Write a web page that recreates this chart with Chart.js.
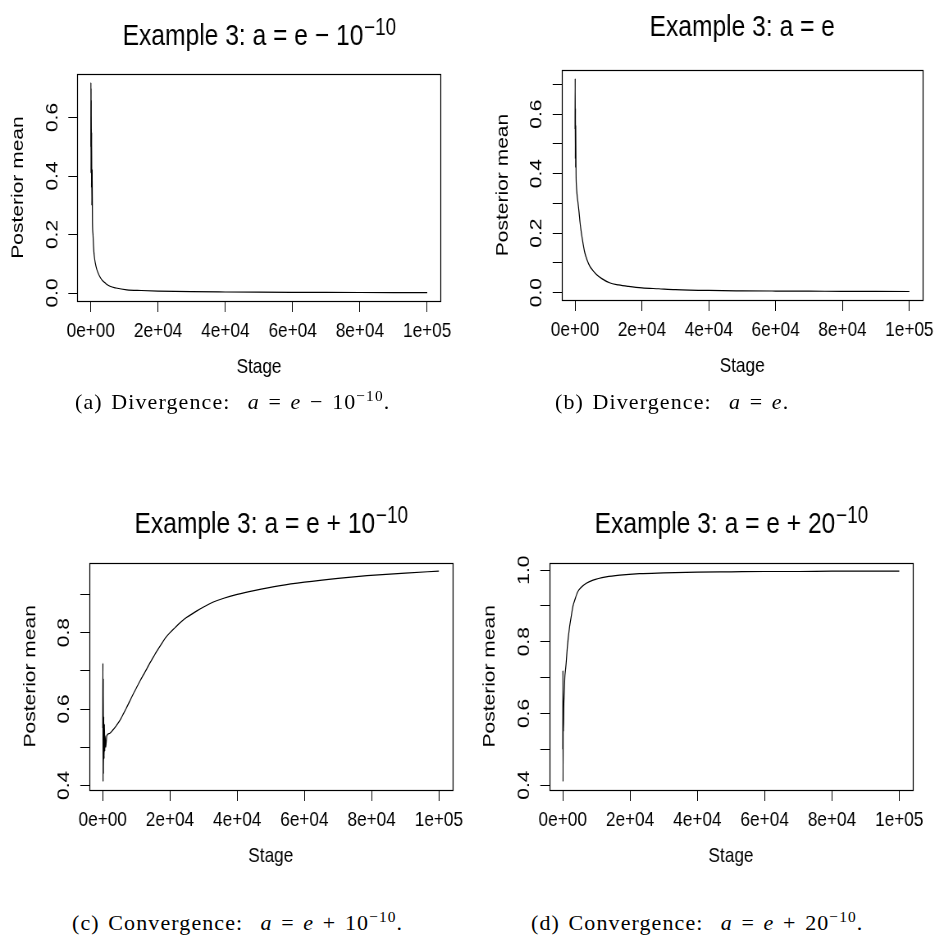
<!DOCTYPE html>
<html>
<head>
<meta charset="utf-8">
<script src="https://cdn.jsdelivr.net/npm/chart.js@4.4.1/dist/chart.umd.min.js"></script>
<style>
  html, body { margin: 0; padding: 0; background: #fff; }
  body { width: 941px; height: 940px; position: relative; overflow: hidden; }
  .panel { position: absolute; width: 573px; height: 420px; transform: scaleX(0.82); transform-origin: 0 0; }
  .cap { position: absolute; font-family: "Liberation Serif", "Times New Roman", serif; font-size: 22px; letter-spacing: 1.1px; word-spacing: 2px; line-height: 24px; white-space: nowrap; color: #000; }
  .cap i { font-style: italic; }
  .cap sup { font-size: 0.7em; vertical-align: 0.55em; line-height: 0; }
</style>
</head>
<body>
<div class="panel" style="left:0px; top:0px;"><canvas id="chartA" width="573" height="420"></canvas></div>
<div class="panel" style="left:470px; top:0px;"><canvas id="chartB" width="573" height="420"></canvas></div>
<div class="panel" style="left:0px; top:470px;"><canvas id="chartC" width="573" height="420"></canvas></div>
<div class="panel" style="left:470px; top:470px;"><canvas id="chartD" width="573" height="420"></canvas></div>

<div class="cap" style="left:75px; top:390px;">(a) Divergence: &nbsp;<i>a</i> = <i>e</i> − 10<sup>−10</sup>.</div>
<div class="cap" style="left:555px; top:390px;">(b) Divergence: &nbsp;<i>a</i> = <i>e</i>.</div>
<div class="cap" style="left:72px; top:911px;">(c) Convergence: &nbsp;<i>a</i> = <i>e</i> + 10<sup>−10</sup>.</div>
<div class="cap" style="left:531px; top:911px;">(d) Convergence: &nbsp;<i>a</i> = <i>e</i> + 20<sup>−10</sup>.</div>

<script>
// stage axis, shared by all four panels
const xTicks = [0, 20000, 40000, 60000, 80000, 100000];
const xTickLabels = ['0e+00', '2e+04', '4e+04', '6e+04', '8e+04', '1e+05'];

// (a) a = e - 10^-10
const stagesA = [0, 30, 60, 90, 120, 150, 200, 250, 300, 400, 500, 650, 800, 1000, 1300, 1800, 2500, 3300, 4500, 5700, 7500, 10700, 15000, 20000, 30000, 40000, 50000, 60000, 70000, 80000, 90000, 100000];
const meansA = [0.50, 0.72, 0.41, 0.70, 0.45, 0.66, 0.36, 0.55, 0.30, 0.42, 0.24, 0.20, 0.16, 0.13, 0.105, 0.08, 0.06, 0.045, 0.032, 0.023, 0.017, 0.011, 0.0085, 0.0065, 0.0045, 0.0035, 0.0028, 0.0023, 0.002, 0.0018, 0.0016, 0.0014];
const yTicksA = [0, 0.2, 0.4, 0.6];
const yLabelsA = ['0.0', '0.2', '0.4', '0.6'];

// (b) a = e
const stagesB = [0, 40, 80, 120, 160, 200, 300, 400, 600, 900, 1200, 1500, 1900, 2400, 2900, 3600, 4400, 5300, 6400, 8000, 10300, 13000, 16000, 20000, 25000, 30000, 40000, 50000, 60000, 70000, 80000, 90000, 100000];
const meansB = [0.55, 0.72, 0.45, 0.62, 0.42, 0.56, 0.40, 0.36, 0.33, 0.30, 0.27, 0.235, 0.20, 0.165, 0.135, 0.11, 0.089, 0.075, 0.061, 0.047, 0.033, 0.026, 0.021, 0.016, 0.013, 0.010, 0.0072, 0.006, 0.0053, 0.0048, 0.0044, 0.0041, 0.0038];
const yTicksB = [0, 0.1, 0.2, 0.3, 0.4, 0.5, 0.6, 0.7];
const yLabelsB = ['0.0', '', '0.2', '', '0.4', '', '0.6', ''];

// (c) a = e + 10^-10
const stagesC = [0, 50, 100, 150, 200, 300, 400, 500, 600, 700, 900, 1200, 2000, 3000, 4000, 5100, 6000, 7000, 8000, 9100, 10000, 11000, 12000, 13100, 14000, 15000, 16000, 17000, 18000, 19000, 20000, 21500, 23000, 25000, 28000, 30000, 32900, 36000, 40000, 45000, 52800, 60000, 70000, 78600, 90000, 100000];
const meansC = [0.55, 0.72, 0.41, 0.68, 0.43, 0.58, 0.47, 0.56, 0.49, 0.53, 0.50, 0.53, 0.536, 0.545, 0.556, 0.570, 0.585, 0.602, 0.620, 0.640, 0.655, 0.672, 0.688, 0.705, 0.720, 0.735, 0.750, 0.764, 0.778, 0.790, 0.800, 0.813, 0.826, 0.840, 0.857, 0.867, 0.880, 0.890, 0.900, 0.910, 0.923, 0.932, 0.942, 0.949, 0.956, 0.961];
const yTicksC = [0.4, 0.5, 0.6, 0.7, 0.8, 0.9];
const yLabelsC = ['0.4', '', '0.6', '', '0.8', ''];

// (d) a = e + 20^-10
const stagesD = [0, 40, 80, 120, 200, 300, 450, 600, 800, 1000, 1400, 2000, 2500, 3000, 3700, 4500, 5500, 7000, 9000, 12900, 17000, 22800, 30000, 40000, 50000, 60000, 70000, 80000, 90000, 100000];
const meansD = [0.50, 0.72, 0.41, 0.60, 0.55, 0.62, 0.66, 0.70, 0.72, 0.74, 0.79, 0.84, 0.87, 0.898, 0.92, 0.94, 0.952, 0.963, 0.972, 0.981, 0.986, 0.99, 0.992, 0.994, 0.995, 0.996, 0.996, 0.997, 0.997, 0.997];
const yTicksD = [0.4, 0.5, 0.6, 0.7, 0.8, 0.9, 1.0];
const yLabelsD = ['0.4', '', '0.6', '', '0.8', '', '1.0'];

const FONT = '"Liberation Sans", Arial, Helvetica, sans-serif';
const CW = 573, CH = 420;

// R style: data range widened by 4% on each side
function rRange(vals) {
    const lo = Math.min(...vals), hi = Math.max(...vals);
    const pad = (hi - lo) * 0.04;
    return [lo - pad, hi + pad];
}

const framePlugin = {
    id: 'frame',
    afterDraw(chart) {
        const { ctx, chartArea: a } = chart;
        ctx.save();
        ctx.strokeStyle = '#000';
        ctx.lineWidth = 1.2;
        ctx.strokeRect(Math.round(a.left) + 0.5, Math.round(a.top) + 0.5, Math.round(a.right - a.left), Math.round(a.bottom - a.top));
        ctx.restore();
    },
};

// main title with a superscript part, centred over the plot region
const titlePlugin = {
    id: 'rtitle',
    afterDraw(chart, args, o) {
        const { ctx, chartArea: a } = chart;
        ctx.save();
        ctx.fillStyle = '#000';
        ctx.textBaseline = 'alphabetic';
        ctx.textAlign = 'left';
        ctx.font = '30px ' + FONT;
        const wMain = ctx.measureText(o.text).width;
        ctx.font = '23px ' + FONT;
        const wSup = o.sup ? ctx.measureText(o.sup).width : 0;
        const x = (a.left + a.right) / 2 - (wMain + wSup) / 2;
        ctx.font = '30px ' + FONT;
        ctx.fillText(o.text, x, o.baseline);
        if (o.sup) {
            ctx.font = '23px ' + FONT;
            ctx.fillText(o.sup, x + wMain + 1, o.baseline - 10);
        }
        ctx.restore();
    },
};

function buildPanel(canvasId, stages, means, yTicks, yLabels, box, title) {
    const xr = rRange(stages);
    const yr = rRange(means);
    const points = stages.map((s, i) => ({ x: s, y: means[i] }));
    const tickFont = { family: FONT, size: 21 };
    return new Chart(document.getElementById(canvasId), {
        type: 'scatter',
        data: {
            datasets: [{
                data: points,
                showLine: true,
                borderColor: '#000',
                borderWidth: 1.2,
                pointRadius: 0,
                cubicInterpolationMode: 'monotone',
            }],
        },
        options: {
            responsive: false,
            animation: false,
            events: [],
            layout: { padding: { left: 0, top: box.top, right: CW - box.right, bottom: 0 } },
            plugins: {
                legend: { display: false },
                tooltip: { enabled: false },
                rtitle: title,
            },
            scales: {
                x: {
                    type: 'linear',
                    min: xr[0],
                    max: xr[1],
                    afterBuildTicks: (s) => { s.ticks = xTicks.map((v) => ({ value: v })); },
                    afterFit: (s) => { s.height = CH - box.bottom; },
                    border: { display: false },
                    grid: { drawOnChartArea: false, drawTicks: true, tickLength: 11, tickColor: '#000', tickWidth: 1 },
                    ticks: {
                        autoSkip: false, maxRotation: 0, minRotation: 0, padding: 7,
                        color: '#000', font: tickFont,
                        callback: (v, i) => xTickLabels[i],
                    },
                    title: {
                        display: true, text: 'Stage', color: '#000', font: tickFont,
                        padding: { top: 0, bottom: CH - box.bottom - 66 - 12.6 },
                    },
                },
                y: {
                    type: 'linear',
                    min: yr[0],
                    max: yr[1],
                    afterBuildTicks: (s) => { s.ticks = yTicks.map((v) => ({ value: v })); },
                    afterFit: (s) => { s.width = box.left; },
                    border: { display: false },
                    grid: { drawOnChartArea: false, drawTicks: true, tickLength: 11, tickColor: '#000', tickWidth: 1 },
                    ticks: {
                        autoSkip: false, minRotation: 90, maxRotation: 90, padding: 5, crossAlign: 'center',
                        color: '#000', font: tickFont,
                        callback: (v, i) => yLabels[i],
                    },
                    title: {
                        display: true, text: 'Posterior mean', color: '#000', font: tickFont,
                        padding: { top: box.left - 72 - 12.6, bottom: 0 },
                    },
                },
            },
        },
        plugins: [framePlugin, titlePlugin],
    });
}

buildPanel('chartA', stagesA, meansA, yTicksA, yLabelsA,
    { left: 94.3, right: 537.4, top: 74, bottom: 301 },
    { text: 'Example 3: a = e \u2212 10', sup: '\u221210', baseline: 45 });
buildPanel('chartB', stagesB, meansB, yTicksB, yLabelsB,
    { left: 111.8, right: 554.0, top: 70, bottom: 300 },
    { text: 'Example 3: a = e', sup: '', baseline: 36 });
buildPanel('chartC', stagesC, meansC, yTicksC, yLabelsC,
    { left: 108.9, right: 551.6, top: 92.7, bottom: 320 },
    { text: 'Example 3: a = e + 10', sup: '\u221210', baseline: 63 });
buildPanel('chartD', stagesD, meansD, yTicksD, yLabelsD,
    { left: 96.7, right: 539.9, top: 92.7, bottom: 320 },
    { text: 'Example 3: a = e + 20', sup: '\u221210', baseline: 63 });
</script>
</body>
</html>
